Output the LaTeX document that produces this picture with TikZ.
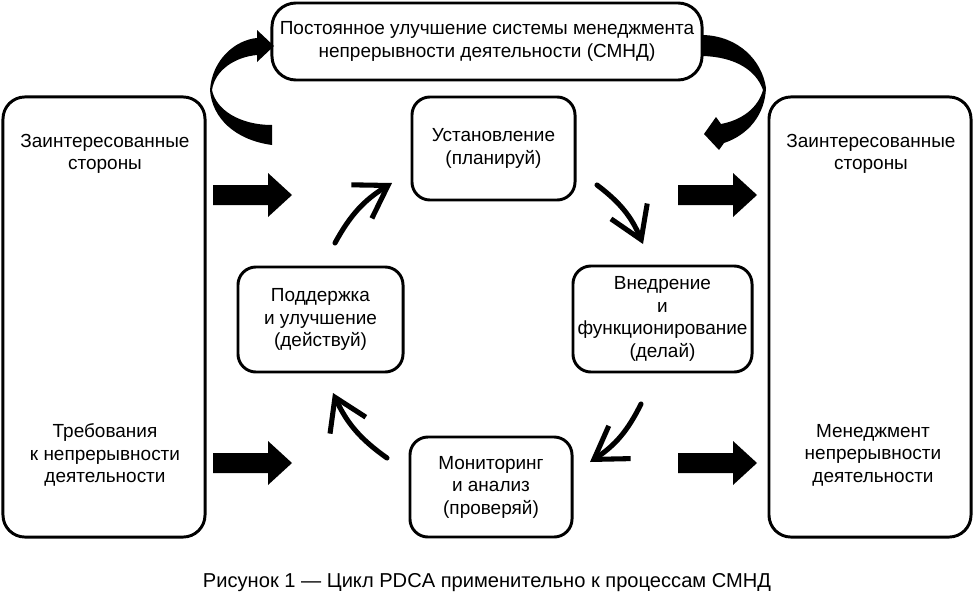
\documentclass[tikz,border=0pt]{standalone}
\usepackage{fontspec}
\setmainfont{Liberation Sans}
\usetikzlibrary{arrows.meta}

\begin{document}
\begin{tikzpicture}[x=0.025cm,y=-0.025cm,line width=2.1pt,
  box/.style={draw,rounded corners=0.45cm,align=center,inner sep=0pt,font=\fontsize{13.5}{16}\selectfont},
  txt/.style={align=center,font=\fontsize{13.5}{16}\selectfont},
  cyc/.style={line width=3.6pt,line cap=round,-{Straight Barb[length=22pt,width=28pt]},bend left=15}]
\useasboundingbox (0,0) rectangle (975,599);
\node[box,rounded corners=0.55cm,minimum width=5.05cm,minimum height=11cm] (lbox) at (104,317) {};
\node[box,rounded corners=0.55cm,minimum width=5.05cm,minimum height=11cm] (rbox) at (870,317) {};
\node[txt] (lparty) at (105,154) {Заинтересованные\\стороны};
\node[txt] (lreq) at (105,455) {Требования\\к непрерывности\\деятельности};
\node[txt] (rparty) at (871,154) {Заинтересованные\\стороны};
\node[txt] (rman) at (873,455) {Менеджмент\\непрерывности\\деятельности};
\node[box,rounded corners=0.6cm,minimum width=10.75cm,minimum height=1.925cm] (improve) at (487,41.5)
  {Постоянное улучшение системы менеджмента\\непрерывности деятельности (СМНД)};
\node[box,minimum width=4.075cm,minimum height=2.575cm] (plan) at (493.5,148.5) {Установление\\(планируй)};
\node[box,minimum width=4.475cm,minimum height=2.65cm] (do) at (662.5,319) {Внедрение\\и\\функционирование\\(делай)};
\node[box,minimum width=4.05cm,minimum height=2.5cm] (check) at (491,487) {Мониторинг\\и анализ\\(проверяй)};
\node[box,minimum width=4.125cm,minimum height=2.625cm] (act) at (320.5,319.5) {Поддержка\\и улучшение\\(действуй)};
\node[txt,font=\fontsize{14.3}{17}\selectfont] (caption) at (487,583) {Рисунок 1 — Цикл PDCA применительно к процессам СМНД};
\coordinate (a1) at (335,243); \coordinate (b1) at (392,183);
\coordinate (a2) at (597,185); \coordinate (b2) at (643,244);
\coordinate (a3) at (641,404); \coordinate (b3) at (590,462);
\coordinate (a4) at (387,458); \coordinate (b4) at (333,393);
\draw[cyc] (a1) to (b1);
\draw[cyc] (a2) to (b2);
\draw[cyc] (a3) to (b3);
\draw[cyc] (a4) to (b4);
\foreach \x/\y in {213/195,678/195,213/463,678/463}
  \fill (\x,\y-10) -- (\x+55,\y-10) -- (\x+55,\y-22) -- (\x+79,\y) -- (\x+55,\y+22) -- (\x+55,\y+10) -- (\x,\y+10) -- cycle;
\fill (272,145) .. controls (235,140) and (212,118) .. (210,90) .. controls (212,60) and (235,40) .. (257,38)
  -- (257,30) -- (274,46) -- (257,62) -- (257,55) .. controls (235,57) and (215,70) .. (212,90)
  .. controls (216,110) and (240,125) .. (272,125) -- cycle;
\fill (703,35) .. controls (738,36) and (762,60) .. (766,88) .. controls (765,115) and (748,135) .. (724,143)
  -- (719,150) -- (704,134) -- (716,117) -- (721,124) .. controls (742,120) and (758,108) .. (763,90)
  .. controls (756,70) and (735,57) .. (703,56) -- cycle;
\end{tikzpicture}
\end{document}
